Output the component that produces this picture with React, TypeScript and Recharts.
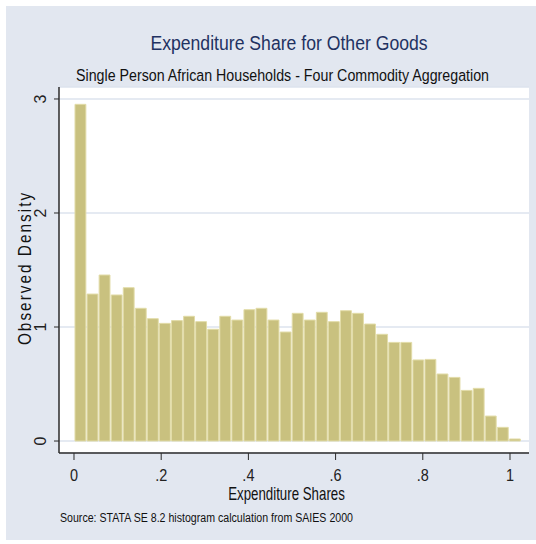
import React from "react";
import { Bar, CartesianGrid, ComposedChart, XAxis, YAxis } from "recharts";

// Histogram of expenditure shares: 37 equal-width bins starting at 0
const BIN_WIDTH = 0.02768;
const DENSITY = [
  2.953, 1.289, 1.456, 1.281, 1.345, 1.164, 1.073, 1.032, 1.056, 1.094,
  1.047, 0.98, 1.094, 1.061, 1.152, 1.164, 1.061, 0.956, 1.12, 1.061,
  1.129, 1.047, 1.143, 1.12, 1.026, 0.936, 0.865, 0.865, 0.711, 0.716,
  0.588, 0.558, 0.444, 0.462, 0.219, 0.12, 0.018
];
const X_TICKS = [0, 0.2, 0.4, 0.6, 0.8, 1];
const Y_TICKS = [0, 1, 2, 3];

const X_DOMAIN: [number, number] = [-0.0344, 1.0436];
const Y_DOMAIN: [number, number] = [-0.105, 3.105];

const W = 536;
const H = 544;
const PLOT = { left: 59, right: 529, top: 87, bottom: 453 };

const FONT = "'Liberation Sans', Arial, sans-serif";
const AXIS_COLOR = "#2b2b2b";

const data = DENSITY.map((density, i) => ({
  mid: (i + 0.5) * BIN_WIDTH,
  density
}));

const pxPerUnit = (PLOT.right - PLOT.left) / (X_DOMAIN[1] - X_DOMAIN[0]);
const barPx = BIN_WIDTH * pxPerUnit;

const fmtShare = (v: number) => (v === 0 || v === 1 ? String(v) : String(v).replace(/^0/, ""));

// condensed text: horizontally squeezed around its anchor point
function NarrowText({
  x,
  y,
  sx,
  size,
  fill = "#111",
  anchor = "middle",
  children
}: {
  x: number;
  y: number;
  sx: number;
  size: number;
  fill?: string;
  anchor?: "start" | "middle" | "end";
  children: React.ReactNode;
}) {
  return (
    <text
      transform={`translate(${x}, ${y}) scale(${sx}, 1)`}
      textAnchor={anchor}
      fill={fill}
      fontSize={size}
      fontFamily={FONT}
    >
      {children}
    </text>
  );
}

function YTick(props: any) {
  const { y, payload } = props;
  const x = 41;
  return (
    <text
      x={x}
      y={y}
      transform={`rotate(-90, ${x}, ${y})`}
      textAnchor="middle"
      dominantBaseline="central"
      fill="#222"
      fontSize={16}
      fontFamily={FONT}
    >
      {payload.value}
    </text>
  );
}

function XTick(props: any) {
  const { x, y, payload } = props;
  return (
    <NarrowText x={x} y={y + 15} sx={0.85} size={17} fill="#222">
      {fmtShare(payload.value)}
    </NarrowText>
  );
}

export default function App() {
  return (
    <div style={{ position: "absolute", left: 0, top: 0, width: W, height: H, background: "#fff" }}>
      <div
        style={{ position: "absolute", left: 6, top: 6, width: W - 6, height: 534, background: "#E2E7F0" }}
      />
      <div style={{ position: "absolute", left: 0, top: 0 }}>
        <ComposedChart
          width={W}
          height={H}
          data={data}
          margin={{ top: PLOT.top, right: W - PLOT.right, bottom: H - PLOT.bottom - 40, left: PLOT.left - 20 }}
          barCategoryGap={0}
          barGap={0}
          style={{ fontFamily: FONT }}
        >
          <CartesianGrid vertical={false} fill="#fff" stroke="#DCE3EE" strokeWidth={1.5} />
          <XAxis
            dataKey="mid"
            type="number"
            domain={X_DOMAIN}
            ticks={X_TICKS}
            allowDataOverflow
            height={40}
            tickSize={7}
            tickMargin={6}
            axisLine={{ stroke: AXIS_COLOR, strokeWidth: 1.5 }}
            tickLine={{ stroke: AXIS_COLOR }}
            tick={<XTick />}
          />
          <YAxis
            type="number"
            domain={Y_DOMAIN}
            ticks={Y_TICKS}
            allowDataOverflow
            width={20}
            tickSize={5}
            axisLine={{ stroke: AXIS_COLOR, strokeWidth: 1.5 }}
            tickLine={{ stroke: AXIS_COLOR }}
            tick={<YTick />}
          />
          <Bar
            dataKey="density"
            barSize={barPx}
            fill="#C9C17F"
            stroke="#E2DCA8"
            strokeWidth={1}
            isAnimationActive={false}
          />
          <NarrowText x={289} y={50} sx={0.84} size={21} fill="#1F3262">
            Expenditure Share for Other Goods
          </NarrowText>
          <NarrowText x={282.5} y={81} sx={0.838} size={17}>
            Single Person African Households - Four Commodity Aggregation
          </NarrowText>
          <NarrowText x={286.5} y={500} sx={0.76} size={17.5}>
            Expenditure Shares
          </NarrowText>
          <text
            x={60}
            y={522}
            textLength={293}
            lengthAdjust="spacingAndGlyphs"
            fill="#111"
            fontSize={12.5}
            fontFamily={FONT}
          >
            Source: STATA SE 8.2 histogram calculation from SAIES 2000
          </text>
          <text
            transform="translate(25, 269) rotate(-90) scale(0.85, 1)"
            x={-89.5}
            y={0}
            textLength={179}
            lengthAdjust="spacing"
            dominantBaseline="central"
            fill="#111"
            fontSize={18}
            fontFamily={FONT}
          >
            Observed Density
          </text>
        </ComposedChart>
      </div>
    </div>
  );
}
